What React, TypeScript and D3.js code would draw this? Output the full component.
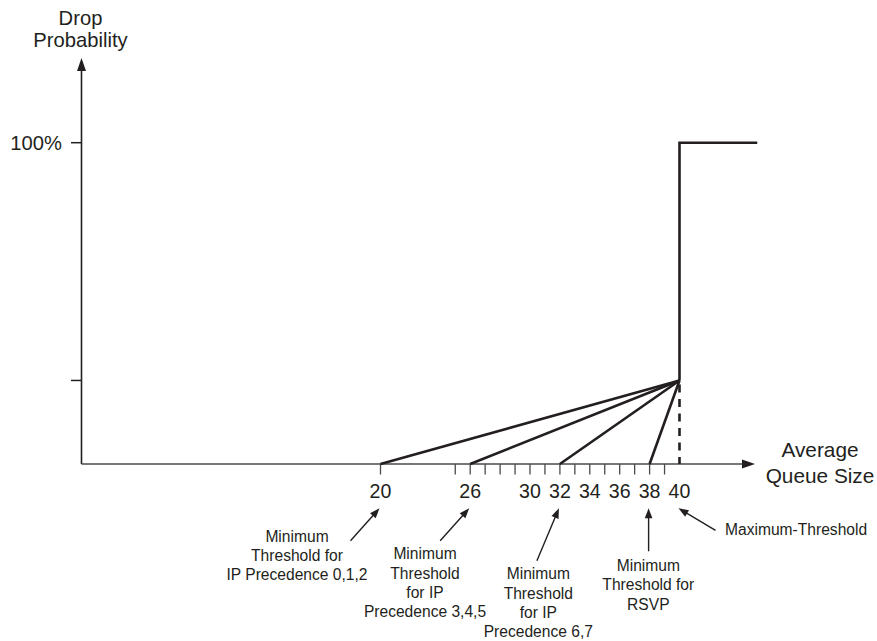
import React from "react";
import * as d3 from "d3";

// ---- data ----
const minThresholds = [20, 26, 32, 38];
const maxThreshold = 40;
const markProbability = 0.26;
const maxProbability = 1;
const tickValues = [20, 25, 26, 27, 28, 29, 30, 31, 32, 33, 34, 35, 36, 37, 38, 39];
const tickLabels = [20, 26, 30, 32, 34, 36, 38, 40];
const yTickValues = [markProbability, maxProbability];
const yTickLabels = ["", "100%"];
const annotationTargets = [20, 26, 32, 38, 40];
const annotationTexts = [
  ["Minimum", "Threshold for", "IP Precedence 0,1,2"],
  ["Minimum", "Threshold", "for IP", "Precedence 3,4,5"],
  ["Minimum", "Threshold", "for IP", "Precedence 6,7"],
  ["Minimum", "Threshold for", "RSVP"],
  ["Maximum-Threshold"],
];

const W = 877;
const H = 641;
const INK = "#231f20";
const FONT = "'Liberation Sans', Arial, Helvetica, sans-serif";

const x = d3.scaleLinear().domain([0, 40]).range([81.5, 679.5]);
const y = d3.scaleLinear().domain([0, 1]).range([464, 142.7]);

function arrowHead(x1: number, y1: number, x2: number, y2: number, len: number, half: number) {
  const a = Math.atan2(y2 - y1, x2 - x1);
  const bx = x2 - len * Math.cos(a);
  const by = y2 - len * Math.sin(a);
  const px = -Math.sin(a) * half;
  const py = Math.cos(a) * half;
  return `${x2},${y2} ${bx + px},${by + py} ${bx - px},${by - py}`;
}

// layout of annotations (positions only)
const annLayout = [
  { tailDx: -29, tailDy: 32.5, tx: 297, ty: 541.7, anchor: "middle" },
  { tailDx: -29, tailDy: 32.5, tx: 425, ty: 559.3, anchor: "middle" },
  { tailDx: -22, tailDy: 52.5, tx: 538.3, ty: 579.3, anchor: "middle" },
  { tailDx: 0, tailDy: 43, tx: 648.3, ty: 571, anchor: "middle" },
  { tailDx: 37, tailDy: 22, tx: 725, ty: 535, anchor: "start" },
];

export default function App() {
  const x0 = x(0);
  const y0 = y(0);
  const xEnd = 755;
  const yTop = 58;
  const lineGen = d3.line<[number, number]>().x((d) => x(d[0])).y((d) => y(d[1]));
  const stepPath = lineGen([
    [maxThreshold, markProbability],
    [maxThreshold, maxProbability],
    [45.2, maxProbability],
  ]);

  return (
    <svg width={W} height={H} style={{ position: "absolute", left: 0, top: 0, background: "#fff" }} fontFamily={FONT}>
      <rect width={W} height={H} fill="#fff" />
      {/* y axis */}
      <line x1={x0} y1={y0} x2={x0} y2={yTop + 10} stroke={INK} strokeWidth={1.6} />
      <polygon points={arrowHead(x0, y0, x0, yTop, 13, 4.5)} fill={INK} />
      {yTickValues.map((v, i) => (
        <g key={"yt" + i}>
          <line x1={x0 - 10.5} x2={x0} y1={y(v)} y2={y(v)} stroke={INK} strokeWidth={1.5} />
          {yTickLabels[i] && (
            <text x={62} y={y(v) + 7.3} textAnchor="end" fontSize={20.2} fill={INK}>
              {yTickLabels[i]}
            </text>
          )}
        </g>
      ))}
      <text x={80.5} y={25} textAnchor="middle" fontSize={20.2} fill={INK}>Drop</text>
      <text x={80.5} y={47} textAnchor="middle" fontSize={20.2} fill={INK}>Probability</text>

      {/* x axis */}
      <line x1={x0} y1={y0} x2={xEnd - 10} y2={y0} stroke="#4a4a4a" strokeWidth={1.6} />
      <polygon points={arrowHead(x0, y0, xEnd, y0, 13, 4.5)} fill={INK} />
      {tickValues.map((v) => (
        <line key={"xt" + v} x1={x(v)} x2={x(v)} y1={y0} y2={y0 + 10.5} stroke="#4a4a4a" strokeWidth={1.3} />
      ))}
      {tickLabels.map((v) => (
        <text key={"xl" + v} x={x(v)} y={498.3} textAnchor="middle" fontSize={19.6} fill={INK}>
          {v}
        </text>
      ))}
      <text x={820} y={457} textAnchor="middle" fontSize={20.8} fill={INK}>Average</text>
      <text x={820} y={483} textAnchor="middle" fontSize={20.8} fill={INK}>Queue Size</text>

      {/* drop probability lines */}
      {minThresholds.map((t) => (
        <path
          key={"l" + t}
          d={lineGen([[t, 0], [maxThreshold, markProbability]]) || ""}
          stroke={INK}
          strokeWidth={2.6}
          fill="none"
        />
      ))}
      <line
        x1={x(maxThreshold)}
        x2={x(maxThreshold)}
        y1={y(markProbability)}
        y2={y0}
        stroke={INK}
        strokeWidth={2.6}
        strokeDasharray="8,6.5"
        strokeDashoffset={-4}
      />
      <path d={stepPath || ""} stroke={INK} strokeWidth={2.6} fill="none" />

      {/* annotations */}
      {annotationTargets.map((t, i) => {
        const L = annLayout[i];
        const tipX = x(t) - 1;
        const tipY = 508.3;
        const tailX = tipX + L.tailDx;
        const tailY = tipY + L.tailDy;
        const a = Math.atan2(tipY - tailY, tipX - tailX);
        return (
          <g key={"a" + t}>
            <line
              x1={tailX}
              y1={tailY}
              x2={tipX - 8 * Math.cos(a)}
              y2={tipY - 8 * Math.sin(a)}
              stroke={INK}
              strokeWidth={1.4}
            />
            <polygon points={arrowHead(tailX, tailY, tipX, tipY, 10, 3.8)} fill={INK} />
            {annotationTexts[i].map((s, j) => (
              <text
                key={j}
                x={L.tx}
                y={L.ty + j * 19.3}
                textAnchor={L.anchor as any}
                fontSize={15.6}
                fill={INK}
              >
                {s}
              </text>
            ))}
          </g>
        );
      })}
    </svg>
  );
}
